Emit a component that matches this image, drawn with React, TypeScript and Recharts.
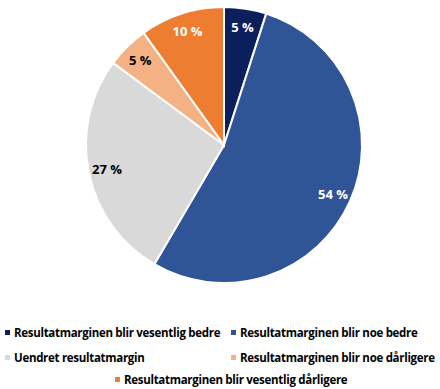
import React from 'react';
import { PieChart, Pie, Cell } from 'recharts';

const categories = [
  'Resultatmarginen blir vesentlig bedre',
  'Resultatmarginen blir noe bedre',
  'Uendret resultatmargin',
  'Resultatmarginen blir noe dårligere',
  'Resultatmarginen blir vesentlig dårligere',
];
const values = [5, 54, 27, 5, 10];
const labels = ['5 %', '54 %', '27 %', '5 %', '10 %'];
const colors = ['#0b1f5c', '#2f5597', '#d9d9d9', '#f4b183', '#ed7d31'];
const labelColors = ['#ffffff', '#ffffff', '#000000', '#000000', '#ffffff'];

const data = categories.map((name, i) => ({ name, value: values[i] }));

const FONT = '"Open Sans", "Noto Sans", sans-serif';
const RAD = Math.PI / 180;

const renderLabel = (props: any) => {
  const { cx, cy, midAngle, outerRadius, index } = props;
  const r = outerRadius * 0.865;
  const x = cx + r * Math.cos(-midAngle * RAD);
  const y = cy + r * Math.sin(-midAngle * RAD);
  return (
    <text
      x={x}
      y={y}
      fill={labelColors[index]}
      textAnchor="middle"
      dominantBaseline="central"
      fontFamily={FONT}
      fontWeight={700}
      fontSize={13}
    >
      {labels[index]}
    </text>
  );
};

const legendPos = [
  { x: 5, y: 332 },
  { x: 231, y: 332 },
  { x: 5, y: 357 },
  { x: 231, y: 357 },
  { x: 115, y: 379 },
];

export default function App() {
  return (
    <div style={{ position: 'absolute', left: 0, top: 0, width: 440, height: 389, background: '#fff' }}>
      <PieChart width={440} height={389} margin={{ top: 0, right: 0, bottom: 0, left: 0 }}>
        <Pie
          data={data}
          dataKey="value"
          nameKey="name"
          cx={224}
          cy={145}
          outerRadius={138}
          startAngle={90}
          endAngle={-270}
          stroke="#ffffff"
          strokeWidth={2}
          label={renderLabel}
          labelLine={false}
          isAnimationActive={false}
        >
          {data.map((d, i) => (
            <Cell key={d.name} fill={colors[i]} />
          ))}
        </Pie>
      </PieChart>
      {categories.map((name, i) => (
        <div
          key={name}
          style={{
            position: 'absolute',
            left: legendPos[i].x,
            top: legendPos[i].y - 8,
            height: 16,
            display: 'flex',
            alignItems: 'center',
            whiteSpace: 'nowrap',
            fontFamily: FONT,
            fontWeight: 700,
            fontSize: 11.5,
            letterSpacing: -0.3,
            color: '#000',
          }}
        >
          <span style={{ display: 'inline-block', width: 5, height: 5, background: colors[i], marginRight: 4 }} />
          {name}
        </div>
      ))}
    </div>
  );
}
